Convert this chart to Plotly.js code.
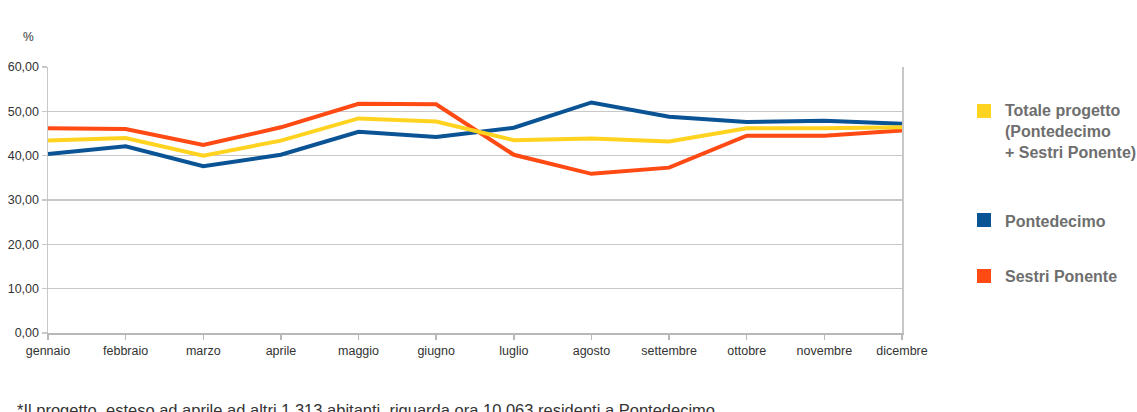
<!DOCTYPE html>
<html>
<head>
<meta charset="utf-8">
<script src="https://cdn.plot.ly/plotly-3.0.1.min.js"></script>
<style>html,body{margin:0;padding:0;background:#fff;}#chart{width:1137px;height:412px;}</style>
</head>
<body>
<div id="chart"></div>
<script>
const months = ["gennaio","febbraio","marzo","aprile","maggio","giugno","luglio","agosto","settembre","ottobre","novembre","dicembre"];
const totale = [43.4, 44.0, 40.0, 43.4, 48.4, 47.7, 43.5, 43.9, 43.2, 46.2, 46.2, 46.4];
const pontedecimo = [40.4, 42.1, 37.6, 40.2, 45.4, 44.2, 46.3, 52.0, 48.8, 47.6, 47.9, 47.2];
const sestri = [46.2, 46.0, 42.4, 46.4, 51.7, 51.6, 40.2, 35.9, 37.3, 44.5, 44.5, 45.7];
const yTicks = [0, 10, 20, 30, 40, 50, 60];
const yTickText = ["0,00", "10,00", "20,00", "30,00", "40,00", "50,00", "60,00"];
const seriesNames = ["Totale progetto<br>(Pontedecimo<br>+ Sestri Ponente)", "Pontedecimo", "Sestri Ponente"];
const colors = {totale: "#ffd320", ponte: "#0a5394", sestri: "#ff4a14"};
const footnote = "*Il progetto, esteso ad aprile ad altri 1.313 abitanti, riguarda ora 10.063 residenti a Pontedecimo";

// plot geometry (pixels) for helper conversions
const W = 1137, H = 412, L = 48, R = 235, T = 67, B = 79;
const pw = W - L - R, ph = H - T - B;
const px = x => (x - L) / pw;
const py = y => (H - B - y) / ph;

const traces = [
  {x: months, y: pontedecimo, name: "Pontedecimo", type: "scatter", mode: "lines", line: {color: colors.ponte, width: 4}},
  {x: months, y: sestri, name: "Sestri Ponente", type: "scatter", mode: "lines", line: {color: colors.sestri, width: 4}},
  {x: months, y: totale, name: "Totale progetto", type: "scatter", mode: "lines", line: {color: colors.totale, width: 4}}
];

const legFont = {family: "Liberation Sans, Arial, sans-serif", size: 16, color: "#6e6e6e", weight: "bold"};
const legendItems = [
  {text: seriesNames[0], color: colors.totale, sq: 111, ty: 131},
  {text: seriesNames[1], color: colors.ponte, sq: 220, ty: 221},
  {text: seriesNames[2], color: colors.sestri, sq: 276, ty: 276}
];

const annotations = [
  {xref: "paper", yref: "paper", x: px(28), y: py(37), text: "%", showarrow: false, xanchor: "center", yanchor: "middle",
   font: {family: "Liberation Sans, Arial, sans-serif", size: 12, color: "#333"}},
  {xref: "paper", yref: "paper", x: px(15), y: py(399), text: footnote, showarrow: false, xanchor: "left", yanchor: "top",
   font: {family: "Liberation Sans, Arial, sans-serif", size: 16.5, color: "#333"}}
];
const shapes = [];
legendItems.forEach(it => {
  annotations.push({xref: "paper", yref: "paper", x: px(1003), y: py(it.ty), text: it.text, showarrow: false,
    xanchor: "left", yanchor: "middle", align: "left", font: legFont});
  shapes.push({type: "rect", xref: "paper", yref: "paper", x0: px(977), x1: px(991), y0: py(it.sq + 7), y1: py(it.sq - 7),
    fillcolor: it.color, line: {width: 0}});
});

const layout = {
  width: W, height: H,
  margin: {l: L, r: R, t: T, b: B, pad: 0},
  paper_bgcolor: "#fff", plot_bgcolor: "#fff",
  showlegend: false,
  xaxis: {
    type: "category", range: [0, 11], showgrid: false, zeroline: false,
    showline: true, linecolor: "#b8b8b8", linewidth: 1.5,
    ticks: "outside", ticklen: 5, tickcolor: "#b8b8b8", tickwidth: 1.5,
    tickfont: {family: "Liberation Sans, Arial, sans-serif", size: 12.5, color: "#333"},
    fixedrange: true
  },
  yaxis: {
    range: [0, 60], tickvals: yTicks, ticktext: yTickText,
    showgrid: true, gridcolor: "#c8c8c8", gridwidth: 1.5, zeroline: false,
    showline: true, mirror: true, linecolor: "#c8c8c8", linewidth: 1.5,
    ticks: "outside", ticklen: 5, tickcolor: "#c8c8c8", tickwidth: 1.5,
    tickfont: {family: "Liberation Sans, Arial, sans-serif", size: 12.5, color: "#333"},
    fixedrange: true
  },
  annotations: annotations,
  shapes: shapes
};

Plotly.newPlot("chart", traces, layout, {displayModeBar: false, staticPlot: true});
</script>
</body>
</html>
